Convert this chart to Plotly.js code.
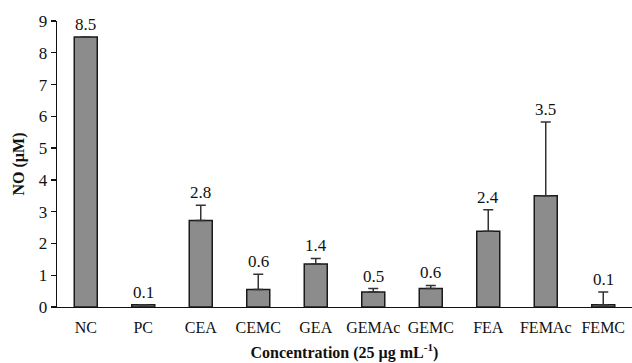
<!DOCTYPE html>
<html>
<head>
<meta charset="utf-8">
<script src="https://cdn.plot.ly/plotly-3.0.1.min.js"></script>
<style>html,body{margin:0;padding:0;background:#fff;}#chart{width:632px;height:363px;}</style>
</head>
<body>
<div id="chart"></div>
<script>
const categories = ["NC","PC","CEA","CEMC","GEA","GEMAc","GEMC","FEA","FEMAc","FEMC"];
const values = [8.5, 0.07, 2.72, 0.55, 1.35, 0.47, 0.58, 2.38, 3.5, 0.07];
const errors = [0, 0, 0.48, 0.48, 0.18, 0.11, 0.1, 0.68, 2.32, 0.4];
const labels = ["8.5","0.1","2.8","0.6","1.4","0.5","0.6","2.4","3.5","0.1"];

const FONT = '"Liberation Serif", "Times New Roman", Times, serif';

const annotations = categories.map((c, i) => ({
  x: c, y: values[i] + errors[i], text: labels[i],
  showarrow: false, yanchor: 'bottom', yshift: 1,
  font: {family: FONT, size: 17, color: '#111'}
}));

const trace = {
  type: 'bar', x: categories, y: values,
  marker: {color: '#8c8c8c', line: {color: '#1a1a1a', width: 1.5}},
  error_y: {type: 'data', symmetric: false, array: errors, arrayminus: errors.map(() => 0),
            color: '#333', thickness: 1.5, width: 5},
  hoverinfo: 'none'
};

const layout = {
  width: 632, height: 363,
  margin: {l: 57, r: 0, t: 21, b: 56},
  paper_bgcolor: '#fff', plot_bgcolor: '#fff',
  bargap: 0.6,
  showlegend: false,
  font: {family: FONT, color: '#111'},
  xaxis: {
    type: 'category', showline: true, linecolor: '#111', linewidth: 1.3,
    ticks: '', ticklabelstandoff: 5, tickfont: {family: FONT, size: 16, color: '#111'},
    title: {text: 'Concentration (25 µg mL<sup>-1</sup>)', standoff: 12,
            font: {family: FONT, size: 16, color: '#111', weight: 'bold'}},
    fixedrange: true
  },
  yaxis: {
    range: [0, 9], dtick: 1, showgrid: false, zeroline: false,
    showline: true, linecolor: '#111', linewidth: 1.3,
    ticks: 'outside', ticklen: 5, tickcolor: '#111', tickwidth: 1.3,
    tickfont: {family: FONT, size: 17, color: '#111'},
    title: {text: 'NO (µM)', standoff: 10,
            font: {family: FONT, size: 16, color: '#111', weight: 'bold'}},
    fixedrange: true
  },
  annotations: annotations
};

Plotly.newPlot('chart', [trace], layout, {displayModeBar: false, staticPlot: true});
</script>
</body>
</html>
